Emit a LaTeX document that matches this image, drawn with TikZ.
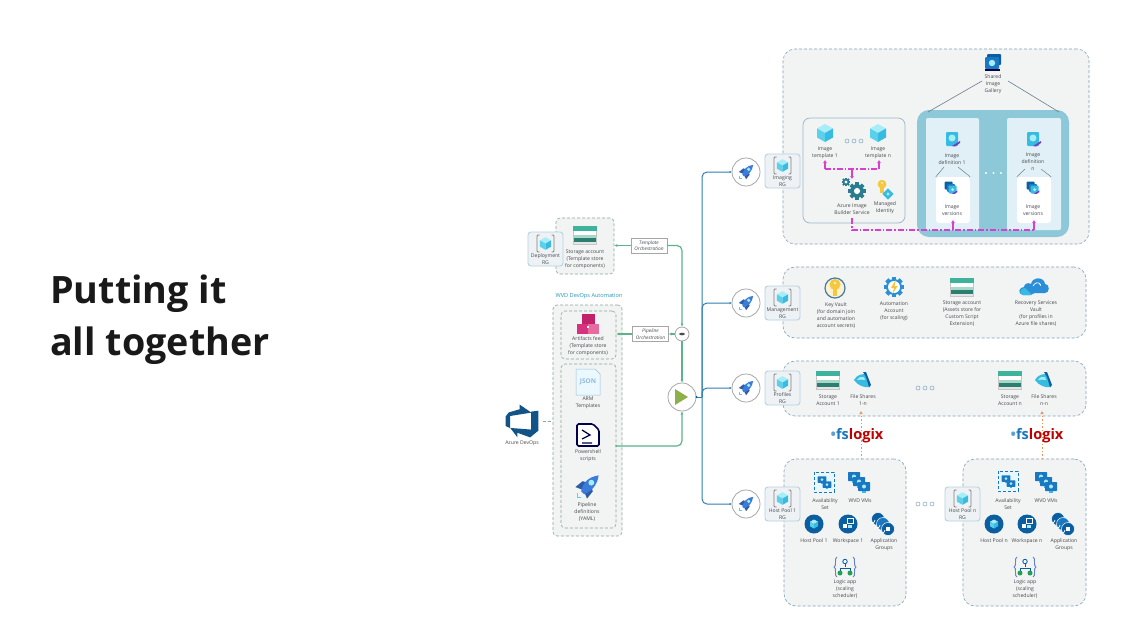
\documentclass[tikz,border=0pt]{standalone}
\usepackage{fontspec}
\setmainfont{Open Sans}
\usetikzlibrary{fit,arrows.meta,calc}
\definecolor{panelf}{HTML}{F2F3F3}
\definecolor{paneld}{HTML}{7FA3BD}
\definecolor{cardd}{HTML}{B5D2E3}
\definecolor{cardf}{HTML}{EEF2F5}
\definecolor{greend}{HTML}{8AA89A}
\definecolor{greenl}{HTML}{5CB58A}
\definecolor{bluel}{HTML}{2F7FB0}
\definecolor{tealbox}{HTML}{8CC8D8}
\definecolor{defbox}{HTML}{E1F0F6}
\definecolor{txt}{HTML}{45494D}
\definecolor{mag}{HTML}{D63FD0}
\definecolor{orng}{HTML}{E8935A}
\definecolor{azb}{HTML}{1A78C2}
\definecolor{deep}{HTML}{0B5FA0}
\definecolor{rock}{HTML}{3A7BDC}
\definecolor{cy}{HTML}{5AD0EC}
\definecolor{cyd}{HTML}{38BBE0}
\definecolor{cyl}{HTML}{A5EEF8}
\definecolor{st1}{HTML}{3CB39A}
\definecolor{st2}{HTML}{A8D8C8}
\definecolor{st3}{HTML}{2C7F70}
\definecolor{yel}{HTML}{F5C842}
\definecolor{pur}{HTML}{7A3FC0}
\definecolor{gearc}{HTML}{2C7C90}
\definecolor{olive}{HTML}{8DB04A}
\definecolor{cldb}{HTML}{2A8FD8}
\definecolor{HTMLa}{HTML}{C2226A}
\definecolor{HTMLb}{HTML}{D6337F}
\definecolor{HTMLc}{HTML}{E86BA0}
\tikzset{
  x=1pt,y=-1pt,
  lbl/.style={inner sep=0pt,align=center,text=txt,font=\fontsize{5.1}{7}\selectfont},
  boxbase/.style={inner sep=0pt,rectangle},
  panel/.style={boxbase,draw=paneld,fill=panelf,densely dashed,line width=.6pt,rounded corners=#1},
  gbox/.style={boxbase,draw=greend,fill=panelf,densely dashed,line width=.6pt,rounded corners=4pt},
  rgcardb/.style={boxbase,draw=cardd,fill=cardf,line width=.9pt,rounded corners=3pt},
  orch/.style={inner sep=0pt,draw=gray!70,fill=white,line width=.5pt,align=center,text=txt,minimum width=36pt,minimum height=15pt,font=\fontsize{4.8}{6.4}\selectfont\itshape},
  greenc/.style={draw=greenl,line width=1.2pt,rounded corners=5pt,-{Latex[length=3pt,width=3pt]}},
  bluec/.style={draw=bluel,line width=1pt,rounded corners=5pt,-{Latex[length=2pt,width=2.5pt]}},
  magc/.style={draw=mag,line width=1.3pt,dash pattern=on 6pt off 2pt on 1.5pt off 2pt},
  magt/.style={draw=mag,line width=1.3pt,-{Latex[length=3pt,width=4pt]}},
  orc/.style={draw=orng,line width=1pt,dash pattern=on 1.5pt off 2pt,-{Latex[length=3pt,width=3.5pt]}},
  ring/.style={circle,draw=black!35,fill=white,inner sep=0pt,line width=.8pt},
  pics/cube/.style={code={
    \fill[cyl] (0,-9)--(8,-4.5)--(0,0)--(-8,-4.5)--cycle;
    \fill[cy] (-8,-4.5)--(0,0)--(0,9)--(-8,4.5)--cycle;
    \fill[cyd] (8,-4.5)--(0,0)--(0,9)--(8,4.5)--cycle;
  }},
  pics/rgicon/.style={code={
    \draw[gray,line width=.9pt,rounded corners=1pt] (-6,-8.5)--(-8.5,-8.5)--(-8.5,8.5)--(-6,8.5);
    \draw[gray,line width=.9pt,rounded corners=1pt] (6,-8.5)--(8.5,-8.5)--(8.5,8.5)--(6,8.5);
    \pic[scale=.7] {cube};
  }},
  pics/storage/.style={code={
    \fill[gray!45] (-12,-9.5) rectangle (12,9.5);
    \fill[st1] (-12,-9.5) rectangle (12,-4);
    \fill[white] (-11,-4) rectangle (11,-.5);
    \fill[st2] (-11,-.5) rectangle (11,3);
    \fill[st3] (-11,3) rectangle (11,6.5);
    \fill[white!80!gray] (-11,6.5) rectangle (11,8.5);
  }},
  pics/rocket/.style={code={
    \fill[rock!75!black] (-8,0)--(-3,-4)--(0,-3)--(-3,2)--cycle;
    \fill[rock!75!black] (0,8)--(4,3)--(3,0)--(-2,3)--cycle;
    \fill[rock] (-4,3) .. controls (-3,-3) and (1,-7) .. (8,-8) .. controls (7,-1) and (3,3) .. (-2,5) -- cycle;
    \fill[cyl] (3,-3) circle (2);
    \draw[cy,line width=.7pt] (-7,4)--(-7,7)--(-4,7);
  }},
  pics/dots/.style={code={
    \foreach \k in {-7,0,7} \draw[paneld,line width=.5pt] (\k,0) circle (2);
  }},
  pics/gearp/.style 2 args={code={
    \foreach \a in {0,45,...,315} \fill[#2,rotate=\a] (-.28*#1,-1.28*#1) rectangle (.28*#1,-.7*#1);
    \fill[#2] (0,0) circle (#1);
    \fill[white] (0,0) circle (.45*#1);
  }},
  pics/key/.style={code={
    \fill[yel] (0,-3.5) circle (5.5);
    \fill[yel] (-2,-1) rectangle (2,8);
    \fill[white] (0,-5) circle (1.1);
  }},
  pics/idef/.style={code={
    \fill[cyd,rounded corners=1pt] (-6,-7) rectangle (6,7);
    \fill[cyl] (0,-1) circle (3.5);
    \fill[pur] (0,7)--(8,2)--(8,4)--(3,7.5)--cycle;
  }},
  pics/iver/.style={code={
    \fill[deep,rounded corners=1pt] (-8,-8) rectangle (2,2);
    \fill[azb,rounded corners=1pt] (-5,-5) rectangle (5,5);
    \fill[cyd,rounded corners=1pt] (-3,-3) rectangle (7,7);
    \fill[cyl] (2,2) circle (2);
    \fill[pur] (1,7)--(8,3)--(8,5)--(4,7.5)--cycle;
  }},
  pics/gallery/.style={code={
    \fill[deep,rounded corners=1pt] (-6,-8) rectangle (8,3);
    \fill[azb,rounded corners=1pt] (-8,-5) rectangle (6,7);
    \fill[cyl] (-1,1) circle (3.2);
    \fill[black!70!blue] (-8,7) rectangle (7,9);
  }},
  pics/vmmon/.style={code={
    \fill[azb,rounded corners=.6pt] (-6,-5) rectangle (6,4);
    \fill[cyl] (0,-.5) circle (2);
    \fill[cyd] (-2,4) rectangle (2,5.5);
  }},
  pics/vms/.style={code={
    \pic at (-5,-5) {vmmon}; \pic at (0,0) {vmmon}; \pic at (5,5) {vmmon};
  }},
  pics/avset/.style={code={
    \draw[azb,densely dashed,line width=.7pt,fill=white!90!cyan] (-10,-10) rectangle (10,10);
    \pic[scale=.72] at (-2,-2) {vmmon}; \pic[scale=.72] at (3,3) {vmmon};
  }},
  pics/hostp/.style={code={
    \fill[deep] (0,0) circle (9.5);
    \pic[scale=.5] {cube};
  }},
  pics/wksp/.style={code={
    \fill[deep] (0,0) circle (9.5);
    \fill[white] (-5,0) rectangle (-1,4);
    \fill[cyl] (0,0.5) rectangle (3.5,4);
    \draw[white,line width=.8pt] (-1,-6) rectangle (5,-1);
  }},
  pics/appg/.style={code={
    \foreach \p/\c in {{-5,-5}/deep,{0,0}/azb,{5,5}/deep}{
      \fill[\c,draw=white,line width=.5pt] (\p) circle (6.5);
      \draw[white,line width=.7pt] ($(\p)+(-3,1)$) arc (180:300:-3);
    }
    \fill[white] (3.3,3.3) rectangle (6.7,6.7);
  }},
  pics/logicapp/.style={code={
    \draw[paneld!80!blue,line width=.9pt] (-8,-10) .. controls (-11,-10) and (-8,0) .. (-11,0) .. controls (-8,0) and (-11,10) .. (-8,10);
    \draw[paneld!80!blue,line width=.9pt] (8,-10) .. controls (11,-10) and (8,0) .. (11,0) .. controls (8,0) and (11,10) .. (8,10);
    \draw[deep,line width=.8pt] (0,-4)--(0,0) (-5,5)--(-5,1)--(5,1)--(5,5);
    \draw[deep,line width=.9pt,fill=white] (0,-5.5) circle (2.2);
    \fill[st1!70!green!80!black] (-5,6) circle (2.5) (5,6) circle (2.5);
  }},
  pics/keyvault/.style={code={
    \draw[azb!60!gray,line width=1.2pt,fill=yel!25] (0,0) circle (10);
    \pic[scale=1] {key};
  }},
  pics/autom/.style={code={
    \pic {gearp={8}{cldb}};
    \fill[white] (0,0) circle (6);
    \fill[yel!90!orange] (1.5,-7)--(-3,1)--(0,1)--(-1.5,7)--(3.5,-1)--(.5,-1)--cycle;
  }},
  pics/recov/.style={code={
    \fill[cldb] (-13,8) .. controls (-19,7) and (-17,0) .. (-12,0) .. controls (-12,-3) and (-8,-5) .. (-5,-3) .. controls (-4,-10) and (8,-11) .. (9,-3) .. controls (14,-3) and (14,6) .. (9,6) -- (-1,6) -- (-6,8) -- cycle;
    \fill[cyd] (-13,8) .. controls (-18,7) and (-16,1) .. (-11,1) -- (-4,8)-- cycle;
    \draw[white,line width=.7pt,-{Latex[length=2pt,width=2pt]}] (-3,-1) .. controls (-1,-5) and (3,-5) .. (5,-1);
  }},
  pics/fshare/.style={code={
    \fill[cyd] (-9,0) .. controls (-6,-6) and (0,-6) .. (3,-6) -- (7,7) .. controls (2,8) and (-5,6) .. (-9,0) -- cycle;
    \fill[deep] (0,-8) -- (3,-8) -- (8,5) -- (6,7) -- (3,-3) -- cycle;
    \fill[cyl] (-6,0) .. controls (-4,-3) and (-1,-4) .. (1,-3) -- (2,0) .. controls (-1,-1) and (-3,0) .. (-6,0) -- cycle;
  }},
  pics/mid/.style={code={
    \pic[scale=.8] at (-2,-2) {key};
    \fill[cyd,rotate around={45:(4,5)}] (0,1) rectangle (8,9);
    \fill[cyl] (4,5) circle (1.6);
  }},
  pics/artif/.style={code={
    \fill[HTMLa] (-6.5,-10) rectangle (6.5,1);
    \fill[HTMLb] (-11,0) rectangle (0,10);
    \fill[HTMLc] (0,0) rectangle (11,10);
    \fill[white] (-1,2) rectangle (1,3.5);
  }},
  pics/psicon/.style={code={
    \draw[black!70!blue,line width=1.6pt,fill=white,rounded corners=1.5pt] (-11,-11)--(5,-11)--(11,-5)--(11,11)--(-11,11)--cycle;
    \draw[black!70!blue,line width=1.3pt] (-6,-5)--(2,0)--(-6,4) (-6,8)--(4,8);
  }},
  pics/devlogo/.style={code={
    \begin{scope}[shift={(-18.5,-18.5)},scale=2.05]
    \fill[azb!70!black] (17,4)--(17,13.74)--(13,17.02)--(6.8,14.76)--(6.8,17)--(3.29,12.41)--(13.52,13.21)--(13.52,4.44)--cycle;
    \fill[azb!70!black] (13.59,4.93)--(7.85,1)--(7.85,3.29)--(2.58,4.84)--(1,6.87)--(1,11.48)--(3.26,12.48)--(3.26,6.57)--cycle;
    \end{scope}
  }},
}
\newcommand\lab[3]{\node[lbl] (#1) at (#2) {#3};}
\newcommand\bx[6]{\node[#2,fit={(#3,#4)(#5,#6)}] (#1) {};}
\newcommand\rgcard[4]{%
  \bx{#1}{rgcardb}{#2}{#3}{#2+35}{#3+34}%
  \pic at (#2+17.5,#3+11.5) {rgicon};%
  \node[lbl] (#1t) at (#2+17.5,#3+27) {#4};}
\newcommand\fslog[2]{\node[inner sep=0pt,font=\fontsize{14.5}{14.5}\selectfont\bfseries] (#1) at (#2) {\textcolor{azb!70}{\textbullet}\textcolor{azb}{fs}\textcolor{red!75!black}{logix}};}
\newfontfamily\titlef{Open Sans}
\begin{document}
\begin{tikzpicture}
\useasboundingbox[fill=white] (0,0) rectangle (1135,632);

% title
\node[anchor=base west,inner sep=0pt,font=\titlef\fontsize{37.7}{37.7}\selectfont\bfseries,text=black!90] (t1) at (50,303) {Putting it};
\node[anchor=base west,inner sep=0pt,font=\titlef\fontsize{37.7}{37.7}\selectfont\bfseries,text=black!90] (t2) at (50,355) {all together};

% right panels
\bx{pimg}{panel=12pt}{783}{49}{1089}{244}
\bx{pmgt}{panel=12pt}{783}{267}{1086}{338}
\bx{pprf}{panel=12pt}{783}{361}{1086}{416}
\bx{ph1}{panel=12pt}{784}{459}{906}{606}
\bx{phn}{panel=12pt}{963}{459}{1086}{606}

% imaging panel boxes
\bx{tbox}{boxbase,draw=paneld!80,fill=panelf,line width=.7pt,rounded corners=7pt}{803}{118}{905}{223}
\bx{teal}{boxbase,fill=tealbox,rounded corners=12pt}{917}{110}{1069}{237}
\bx{d1}{boxbase,fill=defbox,rounded corners=2pt}{926}{118}{979}{230}
\bx{dn}{boxbase,fill=defbox,rounded corners=2pt}{1007}{118}{1061}{230}
\bx{v1}{boxbase,fill=white,rounded corners=3pt}{936}{177}{970}{223}
\bx{vn}{boxbase,fill=white,rounded corners=3pt}{1017}{177}{1051}{223}

% gallery
\pic at (993,62) {gallery};
\lab{galt}{993,84}{Shared\\Image\\Gallery}
\coordinate (gl) at (982,81); \coordinate (gr) at (1008,81);
\coordinate (tl) at (928,112); \coordinate (tr) at (1059,112);
\draw[black!50!cyan!60!gray,line width=.6pt] (gl)--(tl) (gr)--(tr);

\pic at (825,133) {cube}; \pic at (878,133) {cube};
\pic at (854,141) {dots};
\lab{it1}{825,153}{Image\\template 1}
\lab{itn}{878,153}{Image\\template n}
\pic at (846,182) {gearp={3.4}{gearc}};
\pic at (857,191) {gearp={6.8}{gearc}};
\lab{ibs}{852,209}{Azure Image\\Builder Service}
\pic at (884,189) {mid};
\lab{mid}{885,208}{Managed\\Identity}

\pic at (952,139) {idef}; \pic at (1033,139) {idef};
\lab{id1}{952,159}{Image\\definition 1}
\lab{idn}{1033,162}{Image\\definition\\n}
\pic[scale=.8] at (951,188) {iver}; \pic[scale=.8] at (1033,188) {iver};
\lab{iv1}{952,210}{Image\\versions}
\lab{ivn}{1033,210}{Image\\versions}
\coordinate (a1) at (944,167); \coordinate (a2) at (958,167);
\coordinate (a3) at (1025,169); \coordinate (a4) at (1041,169);
\draw[black!50!cyan!60!gray,line width=.5pt] (a1)--(v1.north west) (a2)--(v1.north east) (a3)--(vn.north west) (a4)--(vn.north east);
\foreach \k in {986,993.5,1001} \fill[white] (\k,173) circle (1.2);

% magenta connectors
\coordinate (mj) at (852,169); \coordinate (mbl) at (825,169); \coordinate (mbr) at (879,169);
\coordinate (mt1) at (825,160); \coordinate (mtn) at (879,160); \coordinate (mg) at (852,179);
\draw[magc] (mbl)--(mbr);
\draw[magt] (mbl)--(mt1); \draw[magt] (mbr)--(mtn); \draw[magt] (mj)--(mg);
\coordinate (ms) at (852,218); \coordinate (mc) at (852,230); \coordinate (mr) at (1034,230);
\coordinate (mv1) at (953,220); \coordinate (mvn) at (1034,220); \coordinate (mm) at (953,230);
\draw[magc] (ms)--(mc)--(mr);
\draw[magt] (mm)--(mv1); \draw[magt] (mr)--(mvn);

% management
\pic at (835,288) {keyvault};
\lab{kv}{836,315}{Key Vault\\(for domain join\\and automation\\account secrets)}
\pic at (894,287) {autom};
\lab{aut}{894,311}{Automation\\Account\\(for scaling)}
\pic at (962,287) {storage};
\lab{sa}{962,314}{Storage account\\(Assets store for\\Custom Script\\Extension)}
\pic at (1036,287) {recov};
\lab{rsv}{1036,314}{Recovery Services\\Vault\\(for profiles in\\Azure file shares)}

% profiles
\pic at (828,380) {storage};
\lab{s1}{828,400}{Storage\\Account 1}
\pic at (863,380) {fshare};
\lab{f1}{863,400}{File Shares\\1-n}
\pic at (925,388) {dots};
\pic at (1010,380) {storage};
\lab{sn}{1010,400}{Storage\\Account n}
\pic at (1044,380) {fshare};
\lab{fn}{1044,400}{File Shares\\n-n}

% orange
\coordinate (o1s) at (861,459); \coordinate (o1e) at (861,411);
\coordinate (ons) at (1042,459); \coordinate (one) at (1042,411);
\draw[orc] (o1s)--(o1e);
\draw[orc] (ons)--(one);
\fslog{fs1}{857,436}
\fslog{fsn}{1037,436}

% host pool 1
\pic at (824,482) {avset};
\lab{av1}{825,504}{Availability\\Set}
\pic at (859,482) {vms};
\lab{vm1}{860,501}{WVD VMs}
\pic at (814,524) {hostp};
\lab{hp1}{814,541}{Host Pool 1}
\pic at (848,524) {wksp};
\lab{ws1}{848,541}{Workspace 1}
\pic at (883,524) {appg};
\lab{ag1}{884,545}{Application\\Groups}
\pic at (845,567) {logicapp};
\lab{la1}{845,589}{Logic app\\(scaling\\scheduler)}
\pic at (925,504) {dots};
% host pool n
\pic at (1008,481) {avset};
\lab{avn}{1008,504}{Availability\\Set}
\pic at (1046,482) {vms};
\lab{vmn}{1046,501}{WVD VMs}
\pic at (994,524) {hostp};
\lab{hpn}{994,541}{Host Pool n}
\pic at (1027,524) {wksp};
\lab{wsn}{1027,541}{Workspace n}
\pic at (1063,524) {appg};
\lab{agn}{1064,545}{Application\\Groups}
\pic at (1025,567) {logicapp};
\lab{lan}{1025,589}{Logic app\\(scaling\\scheduler)}

% RG cards
\rgcard{rgi}{765}{154}{Imaging\\RG}
\rgcard{rgm}{765}{286}{Management\\RG}
\rgcard{rgp}{765}{371}{Profiles\\RG}
\rgcard{rgh1}{765}{487}{Host Pool 1\\RG}
\rgcard{rghn}{945}{487}{Host Pool n\\RG}

% left column
\bx{bst}{gbox}{556}{218}{614}{274}
\rgcard{rgd}{528}{232}{Deployment\\RG}
\pic at (585,235) {storage};
\lab{st}{585,259}{Storage account\\(Template store\\for components)}
\node[inner sep=0pt,text=bluel!80!cyan,font=\fontsize{5.6}{7}\selectfont] (wvd) at (589,296) {WVD DevOps Automation};
\bx{bout}{gbox}{553}{305}{622}{536}
\bx{bart}{gbox}{561}{311}{616}{359}
\bx{blow}{gbox}{561}{364}{616}{528}
\pic at (588,324) {artif};
\lab{art}{588,346}{Artifacts feed\\(Template store\\for components)}
\fill[cyan!8,draw=azb!45,line width=.5pt] (576,369)--(595,369)--(600,374)--(600,395)--(576,395)--cycle;
\node[inner sep=0pt,text=azb!50,font=\fontsize{6.5}{7}\selectfont\bfseries] (json) at (588,382) {JSON};
\lab{arm}{588,403}{ARM\\Templates}
\pic at (588,435) {psicon};
\lab{ps}{588,456}{Powershell\\scripts}
\pic[scale=1.45] at (587,487) {rocket};
\lab{pd}{587,512}{Pipeline\\definitions\\(YAML)}
\pic at (522,421) {devlogo};
\lab{ado}{522,443}{Azure DevOps}
\coordinate (adoe) at (543,421);
\draw[greend,densely dashed,line width=.6pt] (adoe)--(bout.west |- adoe);

% orchestration
\node[ring,minimum size=28pt] (play) at (682,397) {};
\fill[olive] (675,389)--(675,405)--(688,397)--cycle;
\node[orch] (tmpl) at (649,245.5) {Template\\Orchestration};
\node[orch] (pipe) at (650.5,334) {Pipeline\\Orchestration};
\node[ring,minimum size=14pt] (mini) at (682,334) {};
\fill[black!70] (682,334) ellipse (2.8 and 1.3);
\coordinate (psout) at (616,446);
\draw[greenc] (tmpl.west)--(bst.east |- tmpl.west);
\draw[greenc] (tmpl.east) -| (mini.north);
\draw[greenc] (mini.south)--(play.north);
\draw[greenc] (mini.west)--(pipe.east);
\draw[greenc] (pipe.west)--(bart.east |- pipe.west);
\draw[greenc] (psout) -| (play.south);
\fill[greenl] (psout) circle (1);

% blue trunk
\node[ring,minimum size=28pt] (dv1) at (746,172) {};
\node[ring,minimum size=28pt] (dv2) at (746,303) {};
\node[ring,minimum size=28pt] (dv3) at (746,388) {};
\node[ring,minimum size=28pt] (dv4) at (746,504) {};
\pic[scale=.9] at (746,172) {rocket}; \pic[scale=.9] at (746,303) {rocket}; \pic[scale=.9] at (746,388) {rocket}; \pic[scale=.9] at (746,504) {rocket};
\coordinate (trunk) at (702,397);
\draw[draw=bluel,line width=1pt] (play.east)--(trunk);
\foreach \d in {dv1,dv2,dv3,dv4} \draw[bluec] (trunk) |- (\d.west);
\fill[deep] (play.east) circle (1.1);
\end{tikzpicture}
\end{document}
